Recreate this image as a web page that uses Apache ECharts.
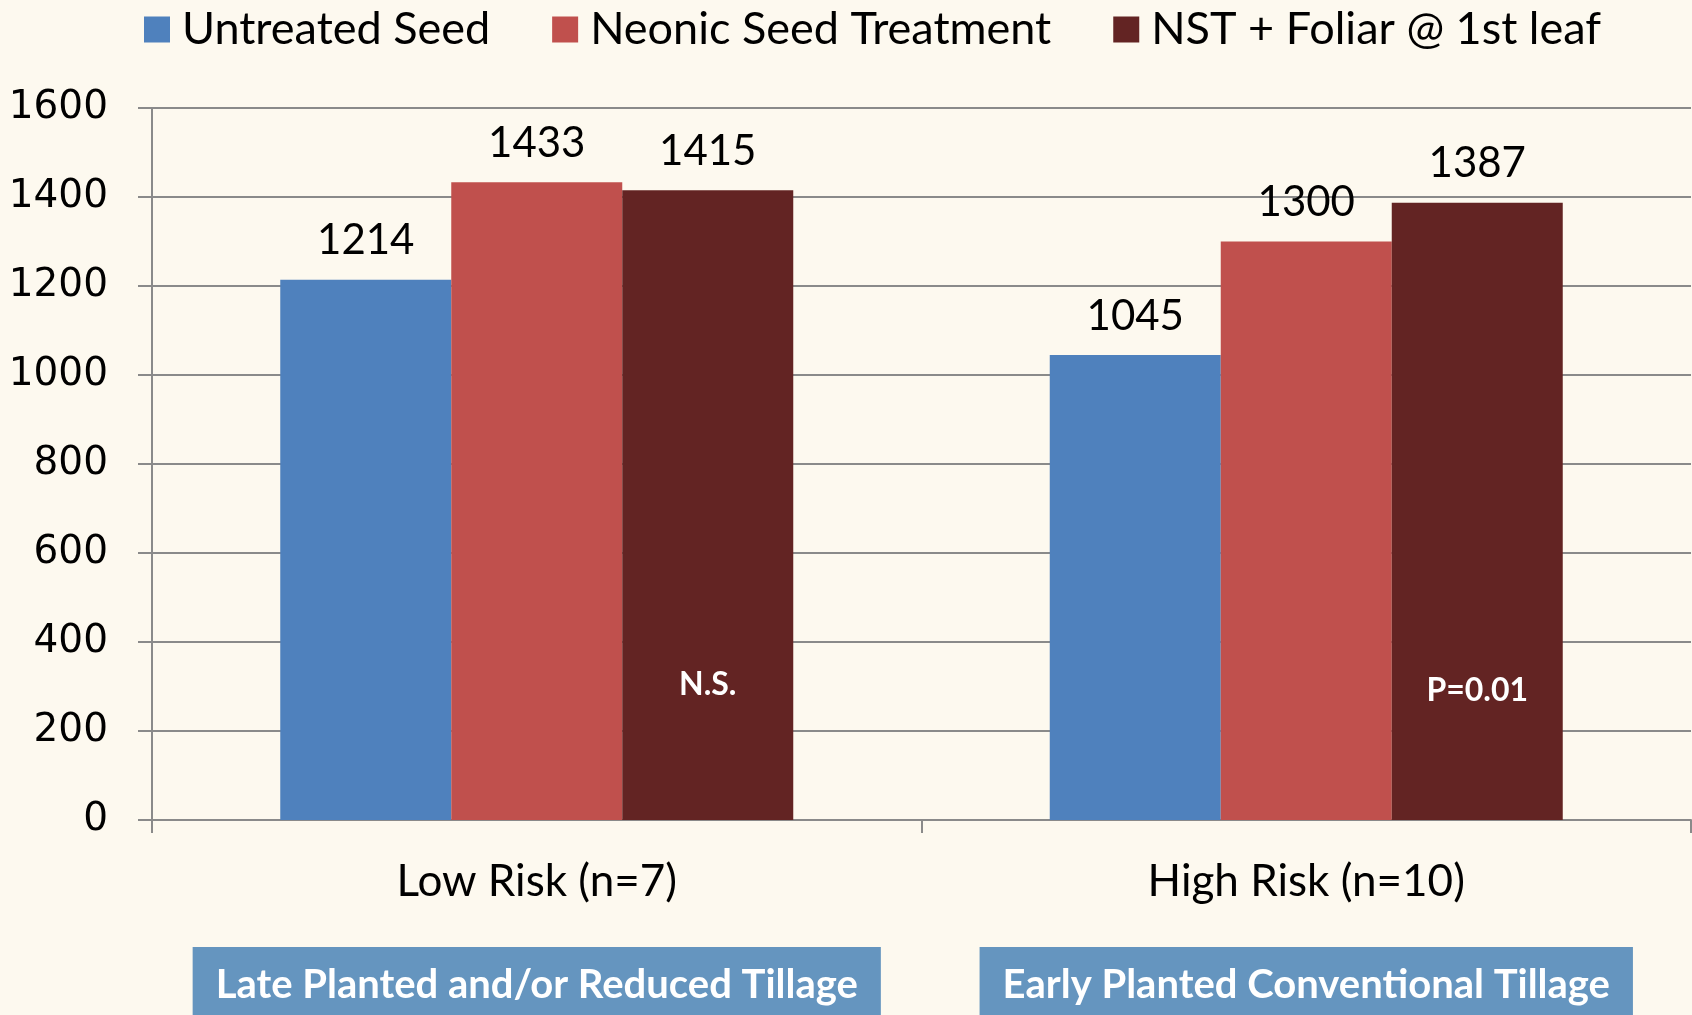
<!DOCTYPE html>
<html>
<head>
<meta charset="utf-8">
<title>Yield by risk</title>
<script src="https://cdn.jsdelivr.net/npm/echarts@6/dist/echarts.min.js"></script>
<style>
	html,body{margin:0;padding:0;background:#fdf9ef;}
	#main{width:1692px;height:1015px;}
</style>
</head>
<body>
<div id="main"></div>
<script>
// 数据
var categories = ['Low Risk (n=7)', 'High Risk (n=10)'];
var groupNames = ['Late Planted and/or Reduced Tillage', 'Early Planted Conventional Tillage'];
var seriesNames = ['Untreated Seed', 'Neonic Seed Treatment', 'NST + Foliar @ 1st leaf'];
var untreated = [1214, 1045];
var neonic = [1433, 1300];
var foliar = [1415, 1387];
var notes = ['N.S.', 'P=0.01'];
var notePos = [305, 290]; //注释所在的数值高度
var yTicks = [0, 200, 400, 600, 800, 1000, 1200, 1400, 1600];

var colors = ['#4f81bd', '#c0504d', '#632423'];

window.onload = function(){
	buildEchart();
};

/**
 * 柱子系列
 */
function makeSeries(name, data, color){
	return {
		name: name,
		type: 'bar',
		barWidth: 171,
		barGap: '0%',
		itemStyle: {color: color},
		label: {
			show: true,
			position: 'top',
			distance: 18,
			color: '#000',
			fontFamily: 'Lato',
			fontSize: 42
		},
		data: data
	};
}

function buildEchart(){
	var myChart = echarts.init(document.getElementById('main'));
	var gray = '#8a8a8a';

	var series = [
		makeSeries(seriesNames[0], untreated, colors[0]),
		makeSeries(seriesNames[1], neonic, colors[1]),
		makeSeries(seriesNames[2], foliar, colors[2])
	];
	// 显著性标注
	series[2].markPoint = {
		symbol: 'circle',
		symbolSize: 1,
		itemStyle: {color: 'rgba(0,0,0,0)'},
		label: {
			show: true,
			position: 'inside',
			formatter: '{b}',
			color: '#fff',
			fontFamily: 'Lato',
			fontWeight: 'bold',
			fontSize: 32
		},
		data: [
			{name: notes[0], coord: [categories[0], notePos[0]]},
			{name: notes[1], coord: [categories[1], notePos[1]]}
		]
	};

	var option = {
		backgroundColor: '#fdf9ef',
		animation: false,
		legend: {
			left: 139,
			top: 2,
			icon: 'rect',
			itemWidth: 26,
			itemHeight: 26,
			itemGap: 62,
			textStyle: {
				fontFamily: 'Lato',
				fontSize: 45,
				color: '#000',
				padding: [0, 0, 0, 7]
			},
			data: seriesNames
		},
		grid: {left: 152, right: 1, top: 108, bottom: 195, containLabel: false, outerBoundsMode: 'none'},
		xAxis: {
			type: 'category',
			data: categories,
			axisLine: {lineStyle: {color: gray, width: 2}},
			axisTick: {show: true, length: 13, lineStyle: {color: gray, width: 2}},
			axisLabel: {
				interval: 0,
				margin: 32,
				formatter: function(value, idx){
					return '{a|' + value + '}\n{s| }\n{b|' + groupNames[idx] + '}';
				},
				rich: {
					a: {fontFamily: 'Lato', fontSize: 44, color: '#000', lineHeight: 60, align: 'center'},
					s: {fontSize: 2, lineHeight: 61},
					b: {
						fontFamily: 'Lato', fontWeight: 'bold', fontSize: 40, color: '#fff',
						lineHeight: 46, align: 'center',
						backgroundColor: '#6595bf',
						padding: [18, 23, 40, 23]
					}
				}
			}
		},
		yAxis: {
			type: 'value',
			min: yTicks[0],
			max: yTicks[yTicks.length - 1],
			interval: 200,
			axisLine: {show: true, lineStyle: {color: gray, width: 2}},
			axisTick: {show: true, length: 14, lineStyle: {color: gray, width: 2}},
			splitLine: {lineStyle: {color: gray, width: 2}},
			axisLabel: {
				margin: 44,
				color: '#000',
				fontFamily: 'DejaVu Sans',
				fontSize: 39,
				formatter: function(v){ return String(v); }
			}
		},
		series: series
	};

	myChart.setOption(option);
}
</script>
</body>
</html>
